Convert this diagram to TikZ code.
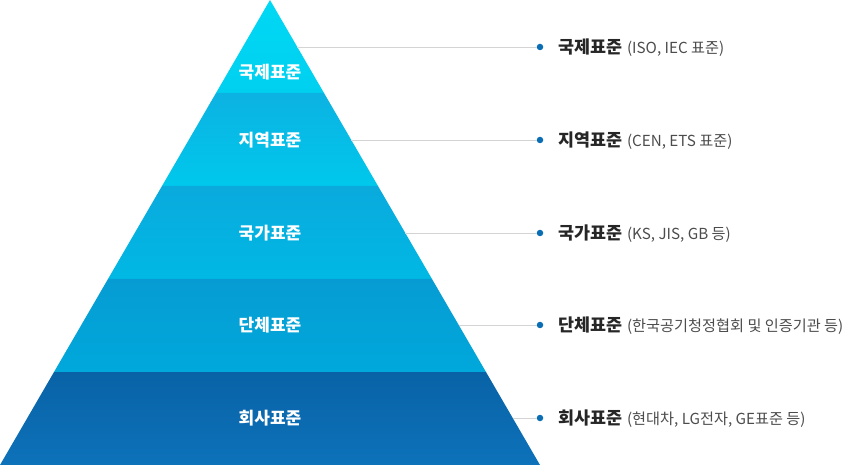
\documentclass[tikz,border=0pt]{standalone}
\usepackage{fontspec}
\setmainfont{Noto Sans CJK KR}
\usetikzlibrary{positioning,calc}
\definecolor{lvlAt}{HTML}{00D8F4}
\definecolor{lvlAb}{HTML}{00D0F0}
\definecolor{lvlBt}{HTML}{0CB2E2}
\definecolor{lvlBb}{HTML}{00C8EC}
\definecolor{lvlCt}{HTML}{0AAADD}
\definecolor{lvlCb}{HTML}{00B8E4}
\definecolor{lvlDt}{HTML}{069CD3}
\definecolor{lvlDb}{HTML}{00A8DB}
\definecolor{lvlEt}{HTML}{0962A6}
\definecolor{lvlEb}{HTML}{0D72BA}
\definecolor{dotblue}{HTML}{0A6EB4}
\tikzset{
  lvl/.style={font=\bfseries\fontsize{17}{20}\selectfont, text=white, inner sep=0pt},
  lead/.style={draw=black!17, line width=0.8pt},
  dot/.style={circle, fill=dotblue, inner sep=0pt, minimum size=6.5pt},
  ttl/.style={font=\bfseries\fontsize{17.4}{20}\selectfont, text=black!85, inner sep=0pt},
  sub/.style={font=\fontsize{15.2}{18}\selectfont, text=black!70, inner sep=0pt},
}

\begin{document}
\begin{tikzpicture}[x=1pt, y=-1pt]
\useasboundingbox (0,0) rectangle (844,465);
% pyramid bands
\foreach \i/\ct/\cb in {0/lvlAt/lvlAb, 1/lvlBt/lvlBb, 2/lvlCt/lvlCb, 3/lvlDt/lvlDb, 4/lvlEt/lvlEb} {
  \pgfmathsetmacro{\ya}{93*\i}
  \pgfmathsetmacro{\yb}{93*(\i+1)}
  \pgfmathsetmacro{\wa}{\ya*0.580645}
  \pgfmathsetmacro{\wb}{\yb*0.580645}
  \shade[top color=\ct, bottom color=\cb] (270-\wa,\ya) -- (270+\wa,\ya) -- (270+\wb,\yb) -- (270-\wb,\yb) -- cycle;
}
% band labels
\node[lvl] (l1) at (270,72) {국제표준};
\node[lvl] (l2) at (270,140) {지역표준};
\node[lvl] (l3) at (270,233) {국가표준};
\node[lvl] (l4) at (270,325) {단체표준};
\node[lvl] (l5) at (270,418) {회사표준};
% legend
\foreach \n/\y/\t/\s in {1/47/국제표준/{(ISO, IEC 표준)}, 2/140/지역표준/{(CEN, ETS 표준)}, 3/233/국가표준/{(KS, JIS, GB 등)}, 4/325/단체표준/{(한국공기청정협회 및 인증기관 등)}, 5/418/회사표준/{(현대차, LG전자, GE표준 등)}} {
  \pgfmathsetmacro{\we}{\y*0.580645}
  \coordinate (e\n) at (270+\we,\y);
  \node[dot] (d\n) at (540,\y) {};
  \node[ttl, right=15pt of d\n] (t\n) {\t};
  \node[sub, right=4pt of t\n.base east, anchor=base west] (s\n) {\s};
  \draw[lead] (e\n) -- (d\n);
}
\end{tikzpicture}
\end{document}
